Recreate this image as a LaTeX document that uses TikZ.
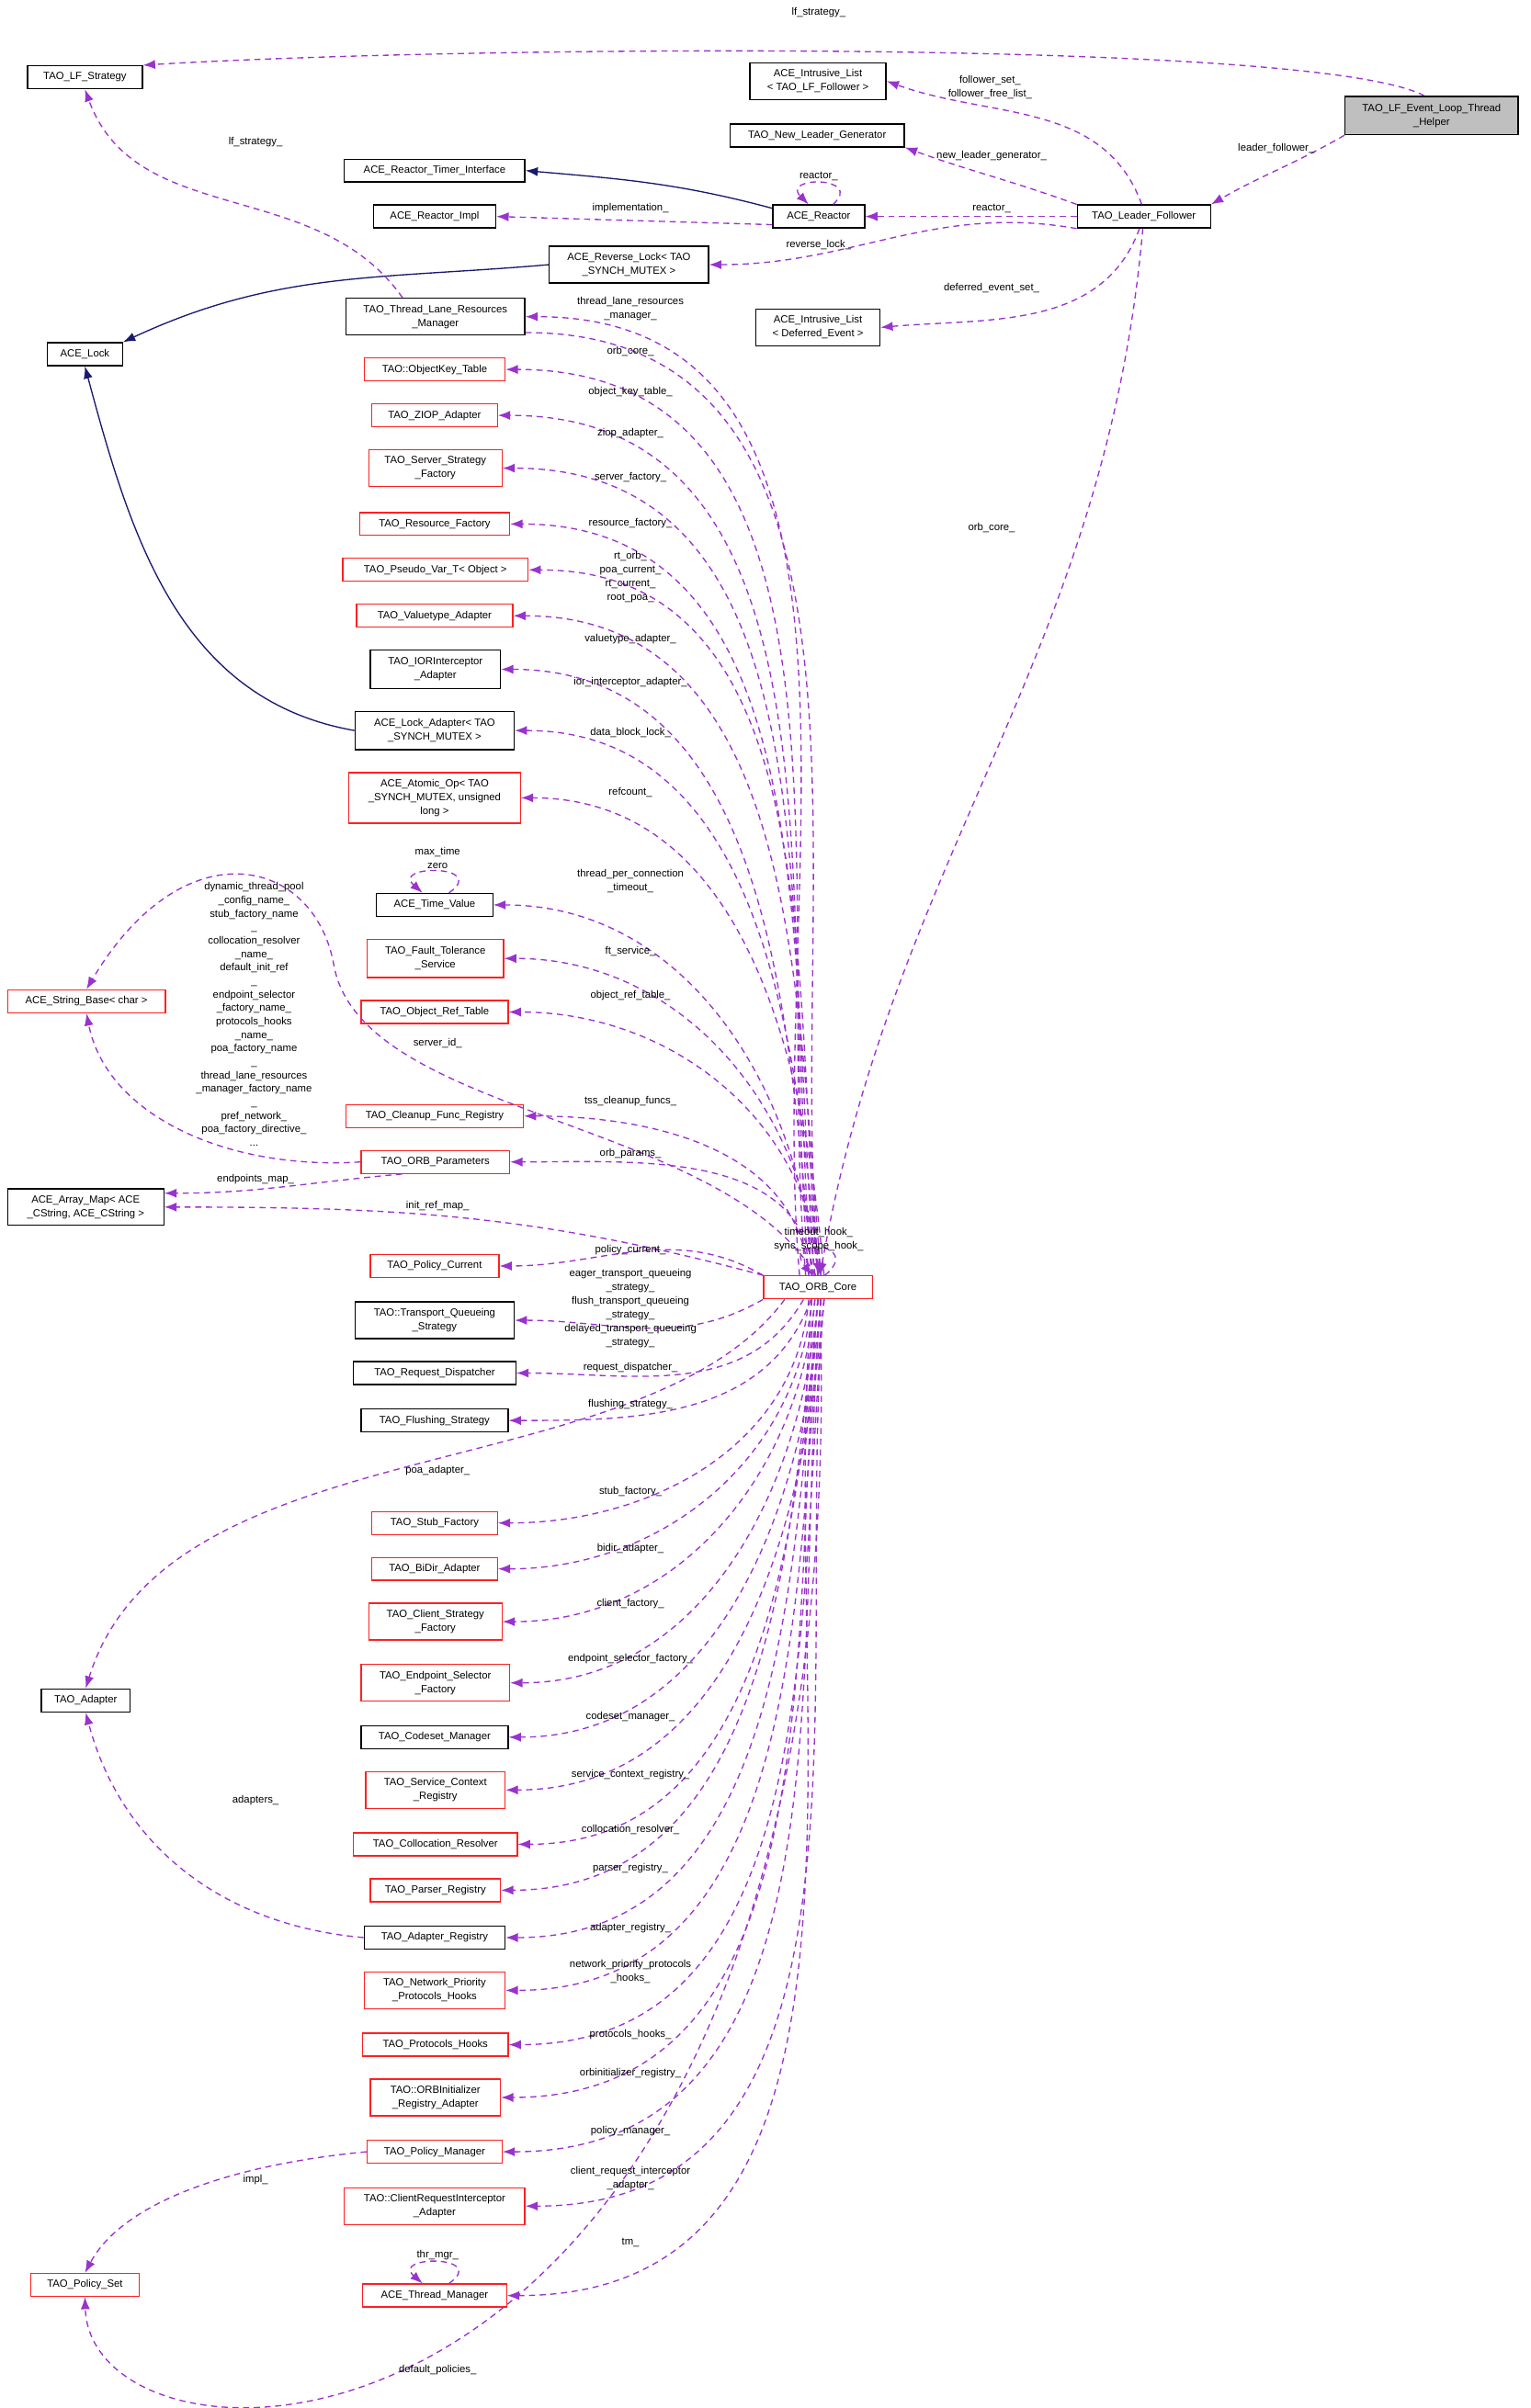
\documentclass[tikz,border=0pt]{standalone}
\usepackage{fontspec}
\setmainfont{Liberation Sans}
\usetikzlibrary{arrows.meta,calc}
\definecolor{dep}{HTML}{9A32CD}
\definecolor{inh}{HTML}{191970}
\definecolor{rb}{HTML}{FF2020}
\begin{document}
\begin{tikzpicture}[x=1pt,y=-1pt,
  every node/.style={font=\fontsize{6.8}{9}\selectfont},
  bx/.style={draw=black,thick,inner sep=1pt,align=center,fill=white},
  rbx/.style={bx,draw=rb},
  lbl/.style={align=center,inner sep=0pt},
  depe/.style={draw=dep,thick,dash pattern=on 4pt off 3pt,-{Latex[length=8pt,width=6pt]}},
  inhe/.style={draw=inh,thick,-{Latex[length=8pt,width=6pt]}}]
\useasboundingbox (0,0) rectangle (1000,1574);
\foreach \n/\x/\y/\w/\h/\s/\t in {
 LFS/55.5/50.5/75/15/bx/{TAO\_LF\_Strategy},
 IL1/534.5/53/89/24/bx/{ACE\_Intrusive\_List\\{<} TAO\_LF\_Follower {>}},
 NLG/534/88.5/114/15/bx/{TAO\_New\_Leader\_Generator},
 RTI/284/111.5/118/15/bx/{ACE\_Reactor\_Timer\_Interface},
 RImpl/284/141.5/80/15/bx/{ACE\_Reactor\_Impl},
 Reactor/535/141.5/60/15/bx/{ACE\_Reactor},
 LF/747.5/141.5/87/15/bx/{TAO\_Leader\_Follower},
 RevLock/411/173/104/24/bx/{ACE\_Reverse\_Lock{<} TAO\\\_SYNCH\_MUTEX {>}},
 IL2/534.5/214/81/24/bx/{ACE\_Intrusive\_List\\{<} Deferred\_Event {>}},
 TLRM/284.5/207/117/24/bx/{TAO\_Thread\_Lane\_Resources\\\_Manager},
 ACELock/55.5/231.5/49/15/bx/{ACE\_Lock},
 OKT/284/241.5/92/15/rbx/{TAO::ObjectKey\_Table},
 ZIOP/284/271.5/82/15/rbx/{TAO\_ZIOP\_Adapter},
 SSF/284.5/306/87/24/rbx/{TAO\_Server\_Strategy\\\_Factory},
 RF/284/342.5/98/15/rbx/{TAO\_Resource\_Factory},
 PV/284.5/372.5/121/15/rbx/{TAO\_Pseudo\_Var\_T{<} Object {>}},
 VA/284/402.5/102/15/rbx/{TAO\_Valuetype\_Adapter},
 IOR/284.5/437.5/85/25/bx/{TAO\_IORInterceptor\\\_Adapter},
 LA/284/477.5/104/25/bx/{ACE\_Lock\_Adapter{<} TAO\\\_SYNCH\_MUTEX {>}},
 AO/284/521.5/112/33/rbx/{ACE\_Atomic\_Op{<} TAO\\\_SYNCH\_MUTEX, unsigned\\long {>}},
 TV/284/591.5/76/15/bx/{ACE\_Time\_Value},
 FT/284.5/626.5/89/25/rbx/{TAO\_Fault\_Tolerance\\\_Service},
 ORT/284/661.5/96/15/rbx/{TAO\_Object\_Ref\_Table},
 SB/56.5/654.5/103/15/rbx/{ACE\_String\_Base{<} char {>}},
 CFR/284/729.5/116/15/rbx/{TAO\_Cleanup\_Func\_Registry},
 OP/284.5/759.5/97/15/rbx/{TAO\_ORB\_Parameters},
 AM/56/789/102/24/bx/{ACE\_Array\_Map{<} ACE\\\_CString, ACE\_CString {>}},
 PC/284/827.5/84/15/rbx/{TAO\_Policy\_Current},
 TQS/284/863/104/24/bx/{TAO::Transport\_Queueing\\\_Strategy},
 RD/284/897.5/106/15/bx/{TAO\_Request\_Dispatcher},
 FS/284/928.5/96/15/bx/{TAO\_Flushing\_Strategy},
 StubF/284/995.5/82/15/rbx/{TAO\_Stub\_Factory},
 BiDir/284/1025.5/82/15/rbx/{TAO\_BiDir\_Adapter},
 CSF/284.5/1060/87/24/rbx/{TAO\_Client\_Strategy\\\_Factory},
 ESF/284.5/1100/97/24/rbx/{TAO\_Endpoint\_Selector\\\_Factory},
 Adapter/56/1111.5/58/15/bx/{TAO\_Adapter},
 CM/284/1135.5/96/15/bx/{TAO\_Codeset\_Manager},
 SCR/284.5/1170/91/24/rbx/{TAO\_Service\_Context\\\_Registry},
 CR/284.5/1205.5/107/15/rbx/{TAO\_Collocation\_Resolver},
 PR/284.5/1235.5/85/15/rbx/{TAO\_Parser\_Registry},
 AR/284/1266.5/92/15/bx/{TAO\_Adapter\_Registry},
 NPPH/284/1301/92/24/rbx/{TAO\_Network\_Priority\\\_Protocols\_Hooks},
 PH/284.5/1336.5/95/15/rbx/{TAO\_Protocols\_Hooks},
 ORBI/284.5/1371/85/24/rbx/{TAO::ORBInitializer\\\_Registry\_Adapter},
 PM/284/1406.5/88/15/rbx/{TAO\_Policy\_Manager},
 CRIA/284/1442/118/24/rbx/{TAO::ClientRequestInterceptor\\\_Adapter},
 PS/55.5/1493.5/71/15/rbx/{TAO\_Policy\_Set},
 TM/284/1500.5/94/15/rbx/{ACE\_Thread\_Manager}}
 \node[\s,minimum width=\w,minimum height=\h] (\n) at (\x,\y) {\t};
\node[bx,fill=black!25,minimum width=113,minimum height=25] (Helper) at (935.5,75.5) {TAO\_LF\_Event\_Loop\_Thread\\\_Helper};
\node[rbx,minimum width=71,minimum height=15] (Core) at (534.5,841.5) {TAO\_ORB\_Core};
% inheritance
\draw[inhe] (Reactor.170) to[out=165,in=-5] (RTI.east);
\draw[inhe] (RevLock.west) to[out=185,in=25] (ACELock.north east);
\draw[inhe] (LA.west) to[out=170,in=-75] (ACELock.south);
% top area
\draw[depe] (Helper.110) .. controls (860,25) and (300,30) .. (LFS.north east);
\draw[depe] (Helper.south west) to[out=-150,in=30] (LF.north east);
\draw[depe] (LF.100) to[out=110,in=-20] (IL1.east);
\draw[depe] (LF.north west) to[out=160,in=-20] (NLG.south east);
\draw[depe] (LF.west) -- (Reactor.east);
\draw[depe] (LF.south west) to[out=170,in=0] (RevLock.east);
\draw[depe] (LF.-110) to[out=-110,in=5] (IL2.east);
\draw[depe] (LF.-95) to[out=-95,in=80] (Core.80);
\draw[depe] (Reactor.-170) -- (RImpl.east);
\draw[depe] (Reactor.40) .. controls (565,115) and (510,115) .. (Reactor.130);
\draw[depe] (TLRM.150) to[out=125,in=-70] (LFS.south);
\draw[depe] (TV.40) .. controls (320,565) and (255,565) .. (TV.135);
\draw[depe] (TM.40) .. controls (320,1474) and (255,1474) .. (TM.135);
\draw[depe] (Core.60) .. controls (565,812) and (510,808) .. (Core.115);
\draw[depe] (TLRM.-10) to[out=0,in=95] (Core.85);
\foreach \n/\d in {TLRM/-12,OKT/-8,ZIOP/-6,SSF/-4,RF/-2,PV/0,VA/2,IOR/-4,LA/0,AO/4,TV/-2,FT/0,ORT/2,CFR/-6,OP/-3}
 \draw[depe] ($(Core.north)+(\d,0)$) to[out=95,in=0] (\n.east);
\draw[depe] (Core.north west) to[out=150,in=0] (PC.east);
\draw[depe] (Core.north west) to[out=165,in=0] (AM.east);
\draw[depe] (Core.south west) to[out=-150,in=0] (TQS.east);
\draw[depe] (Core.-140) to[out=-120,in=0] (RD.east);
\draw[depe] (Core.-120) to[out=-110,in=0] (FS.east);
\foreach \n/\d in {StubF/-6,BiDir/-4,CSF/-2,ESF/0,CM/2,SCR/4,CR/0,PR/-2,AR/0,NPPH/2,PH/4,ORBI/0,PM/2,CRIA/4,TM/-4}
 \draw[depe] ($(Core.south)+(\d,0)$) to[out=-95,in=0] (\n.east);
\draw[depe] (Core.100) .. controls (470,730) and (235,730) .. (218,630) .. controls (205,560) and (120,540) .. (SB.north);
\draw[depe] (OP.west) .. controls (150,765) and (70,730) .. (SB.south);
\draw[depe] (OP.200) to[out=185,in=0] (AM.10);
\draw[depe] (Core.-160) .. controls (420,975) and (110,930) .. (Adapter.north);
\draw[depe] (AR.west) to[out=175,in=-75] (Adapter.south);
\draw[depe] (PM.west) .. controls (150,1415) and (80,1440) .. (PS.north);
\draw[depe] (Core.-80) .. controls (560,1640) and (60,1640) .. (PS.south);
\foreach \n/\x/\y/\t in {
 1/535/8/{lf\_strategy\_},
 2/647/57/{follower\_set\_\\follower\_free\_list\_},
 3/648/102/{new\_leader\_generator\_},
 4/535/115/{reactor\_},
 5/648/136/{reactor\_},
 6/412/136/{implementation\_},
 7/535/160/{reverse\_lock\_},
 8/648/188/{deferred\_event\_set\_},
 9/834/97/{leader\_follower\_},
 10/167/93/{lf\_strategy\_},
 11/412/202/{thread\_lane\_resources\\\_manager\_},
 12/412/230/{orb\_core\_},
 13/412/256/{object\_key\_table\_},
 14/412/283/{ziop\_adapter\_},
 15/412/312/{server\_factory\_},
 16/412/342/{resource\_factory\_},
 17/412/377/{rt\_orb\_\\poa\_current\_\\rt\_current\_\\root\_poa\_},
 18/412/418/{valuetype\_adapter\_},
 19/412/446/{ior\_interceptor\_adapter\_},
 20/412/479/{data\_block\_lock\_},
 21/412/518/{refcount\_},
 22/412/576/{thread\_per\_connection\\\_timeout\_},
 23/286/561/{max\_time\\zero},
 24/412/622/{ft\_service\_},
 25/412/651/{object\_ref\_table\_},
 26/286/682/{server\_id\_},
 27/167/771/{endpoints\_map\_},
 28/412/720/{tss\_cleanup\_funcs\_},
 29/412/754/{orb\_params\_},
 30/286/788/{init\_ref\_map\_},
 31/412/817/{policy\_current\_},
 32/412/855/{eager\_transport\_queueing\\\_strategy\_\\flush\_transport\_queueing\\\_strategy\_\\delayed\_transport\_queueing\\\_strategy\_},
 33/535/810/{timeout\_hook\_\\sync\_scope\_hook\_},
 34/412/894/{request\_dispatcher\_},
 35/412/918/{flushing\_strategy\_},
 36/286/961/{poa\_adapter\_},
 37/412/975/{stub\_factory\_},
 38/412/1012/{bidir\_adapter\_},
 39/412/1048/{client\_factory\_},
 40/412/1084/{endpoint\_selector\_factory\_},
 41/412/1122/{codeset\_manager\_},
 42/412/1160/{service\_context\_registry\_},
 43/412/1196/{collocation\_resolver\_},
 44/412/1221/{parser\_registry\_},
 45/167/1177/{adapters\_},
 46/412/1260/{adapter\_registry\_},
 47/412/1289/{network\_priority\_protocols\\\_hooks\_},
 48/412/1330/{protocols\_hooks\_},
 49/412/1355/{orbinitializer\_registry\_},
 50/412/1393/{policy\_manager\_},
 51/412/1424/{client\_request\_interceptor\\\_adapter\_},
 52/412/1466/{tm\_},
 53/286/1474/{thr\_mgr\_},
 54/167/1425/{impl\_},
 55/286/1549/{default\_policies\_},
 56/648/345/{orb\_core\_}}
 \node[lbl] (lab\n) at (\x,\y) {\t};
\node[lbl,font=\fontsize{6.8}{8.8}\selectfont] (labbig) at (166,663) {dynamic\_thread\_pool\\\_config\_name\_\\stub\_factory\_name\\\_\\collocation\_resolver\\\_name\_\\default\_init\_ref\\\_\\endpoint\_selector\\\_factory\_name\_\\protocols\_hooks\\\_name\_\\poa\_factory\_name\\\_\\thread\_lane\_resources\\\_manager\_factory\_name\\\_\\pref\_network\_\\poa\_factory\_directive\_\\...};
\end{tikzpicture}
\end{document}
